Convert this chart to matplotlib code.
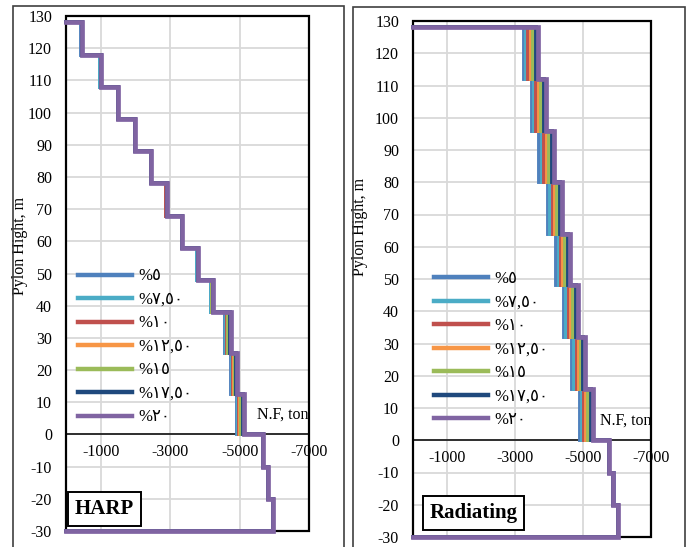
import matplotlib.pyplot as plt
from matplotlib.font_manager import FontProperties
from matplotlib.patches import Rectangle
from matplotlib.lines import Line2D

# series names (arabic-indic digits, written in display order)
labels = ['%٥', '%٧,٥٠', '%١٠', '%١٢,٥٠', '%١٥', '%١٧,٥٠', '%٢٠']
colors = ['#4F81BD', '#4BACC6', '#C0504D', '#F79646', '#9BBB59', '#1F497D', '#8064A2']

# HARP: level breakpoints (m) and normal force of each segment (ton)
harp_heights = [128, 118, 108, 98, 88, 78, 68, 58, 48, 38, 25.3, 12.7, 0, -10, -20, -30]
harp_5 = [-445, -990, -1500, -1975, -2450, -2890, -3340, -3785, -4170, -4570, -4760, -4930, -5670, -5830, -5960]
harp_7_5 = [-447, -992, -1502, -1977, -2452, -2892, -3342, -3788, -4180, -4600, -4790, -4960, -5670, -5805, -5960]
harp_10 = [-449, -995, -1505, -1980, -2455, -2895, -3345, -3792, -4195, -4625, -4815, -4990, -5670, -5805, -5960]
harp_12_5 = [-450, -996, -1506, -1981, -2456, -2897, -3347, -3795, -4205, -4655, -4845, -5020, -5670, -5805, -5960]
harp_15 = [-451, -997, -1507, -1982, -2457, -2898, -3348, -3797, -4215, -4680, -4870, -5050, -5670, -5805, -5960]
harp_17_5 = [-453, -999, -1509, -1984, -2459, -2900, -3350, -3800, -4225, -4710, -4900, -5085, -5670, -5805, -5960]
harp_20 = [-455, -1000, -1510, -1985, -2460, -2902, -3352, -3803, -4240, -4740, -4930, -5120, -5670, -5805, -5960]

# Radiating
rad_heights = [128, 112, 96, 80, 64, 48, 32, 16, 0, -10, -20, -30]
rad_5 = [-3250, -3490, -3700, -3970, -4210, -4440, -4680, -4910, -5760, -5900, -6030]
rad_7_5 = [-3320, -3560, -3780, -4040, -4280, -4510, -4740, -4970, -5760, -5880, -6030]
rad_10 = [-3390, -3630, -3850, -4110, -4350, -4580, -4810, -5040, -5760, -5880, -6030]
rad_12_5 = [-3460, -3700, -3930, -4180, -4420, -4650, -4870, -5100, -5760, -5880, -6030]
rad_15 = [-3540, -3770, -4000, -4240, -4480, -4710, -4930, -5160, -5760, -5880, -6030]
rad_17_5 = [-3610, -3840, -4080, -4310, -4550, -4780, -5000, -5230, -5760, -5880, -6030]
rad_20 = [-3680, -3910, -4150, -4380, -4620, -4850, -5060, -5290, -5760, -5880, -6030]

x_ticks = [-1000, -3000, -5000, -7000]
y_ticks = list(range(-30, 131, 10))

serif = ['Liberation Serif', 'DejaVu Sans']
plt.rcParams['font.family'] = serif
plt.rcParams['axes.unicode_minus'] = False


def stair(heights, forces):
    # turn segment forces into a stepped outline starting/ending on the axis
    xs, ys = [0], [heights[0]]
    for i, f in enumerate(forces):
        xs += [f, f]
        ys += [heights[i], heights[i + 1]]
    xs.append(0)
    ys.append(heights[-1])
    return xs, ys


def panel(ax, heights, series, name, box_xy, ylab_xy, leg_xy, clip_nf):
    for i, forces in enumerate(series):
        xs, ys = stair(heights, forces)
        lw = 3.4 if i == len(series) - 1 else 2.8
        ax.plot(xs, ys, color=colors[i], lw=lw, zorder=3 + i * 0.1,
                clip_on=False, solid_joinstyle='miter')

    ax.set_xlim(0, -7000)
    ax.set_ylim(-30, 130)
    ax.set_xticks(x_ticks)
    ax.set_yticks(y_ticks)
    ax.grid(color='#D9D9D9', lw=1.3, zorder=0)
    ax.set_axisbelow(True)

    # x axis crosses at zero, plot area framed separately
    for s in ['top', 'right', 'left']:
        ax.spines[s].set_visible(False)
    ax.spines['bottom'].set_position(('data', 0))
    ax.spines['bottom'].set_linewidth(1.1)
    ax.spines['bottom'].set_zorder(2)
    ax.add_patch(Rectangle((0, 0), 1, 1, transform=ax.transAxes, fill=False,
                           ec='black', lw=1.6, zorder=2.5, clip_on=False))
    ax.tick_params(axis='both', length=0, labelsize=11.5)
    ax.tick_params(axis='x', pad=7)
    ax.tick_params(axis='y', pad=10)

    ax.set_ylabel('Pylon Hight, m', fontsize=11.5)
    ax.yaxis.set_label_coords(*ylab_xy)

    ax.text(-5500, 6, 'N.F, ton', fontsize=11.5, va='center', ha='left',
            clip_on=clip_nf)

    ax.text(box_xy[0], box_xy[1], name, transform=ax.transAxes, fontsize=15,
            fontweight='bold', ha='center', va='center', zorder=5,
            bbox=dict(boxstyle='square,pad=0.33', fc='white', ec='black', lw=1.4))

    handles = [Line2D([], [], color=c, lw=3.2) for c in colors]
    ax.legend(handles, labels, loc='upper left', bbox_to_anchor=leg_xy,
              frameon=False, borderpad=0, borderaxespad=0, handlelength=3.25,
              handletextpad=0.35, labelspacing=0.45,
              prop=FontProperties(family=serif, size=12))


fig = plt.figure(figsize=(6.88, 5.47), dpi=100)

# outer chart borders
fig.patches.append(Rectangle((13 / 688, -0.1), 331 / 688, 1.1 - 6 / 547,
                             transform=fig.transFigure, fill=False,
                             ec='#404040', lw=1.2))
fig.patches.append(Rectangle((353 / 688, -0.1), 332 / 688, 1.1 - 7 / 547,
                             transform=fig.transFigure, fill=False,
                             ec='#404040', lw=1.2))

ax1 = fig.add_axes([66 / 688, 16 / 547, 243 / 688, 515 / 547])
ax2 = fig.add_axes([413 / 688, 10 / 547, 238 / 688, 516 / 547])

panel(ax1, harp_heights,
      [harp_5, harp_7_5, harp_10, harp_12_5, harp_15, harp_17_5, harp_20],
      'HARP', (0.158, 0.043), (-0.156, 0.553), (0.049, 0.51), True)
panel(ax2, rad_heights,
      [rad_5, rad_7_5, rad_10, rad_12_5, rad_15, rad_17_5, rad_20],
      'Radiating', (0.254, 0.047), (-0.189, 0.60), (0.088, 0.515), False)

fig.savefig('out.png', dpi=100)
